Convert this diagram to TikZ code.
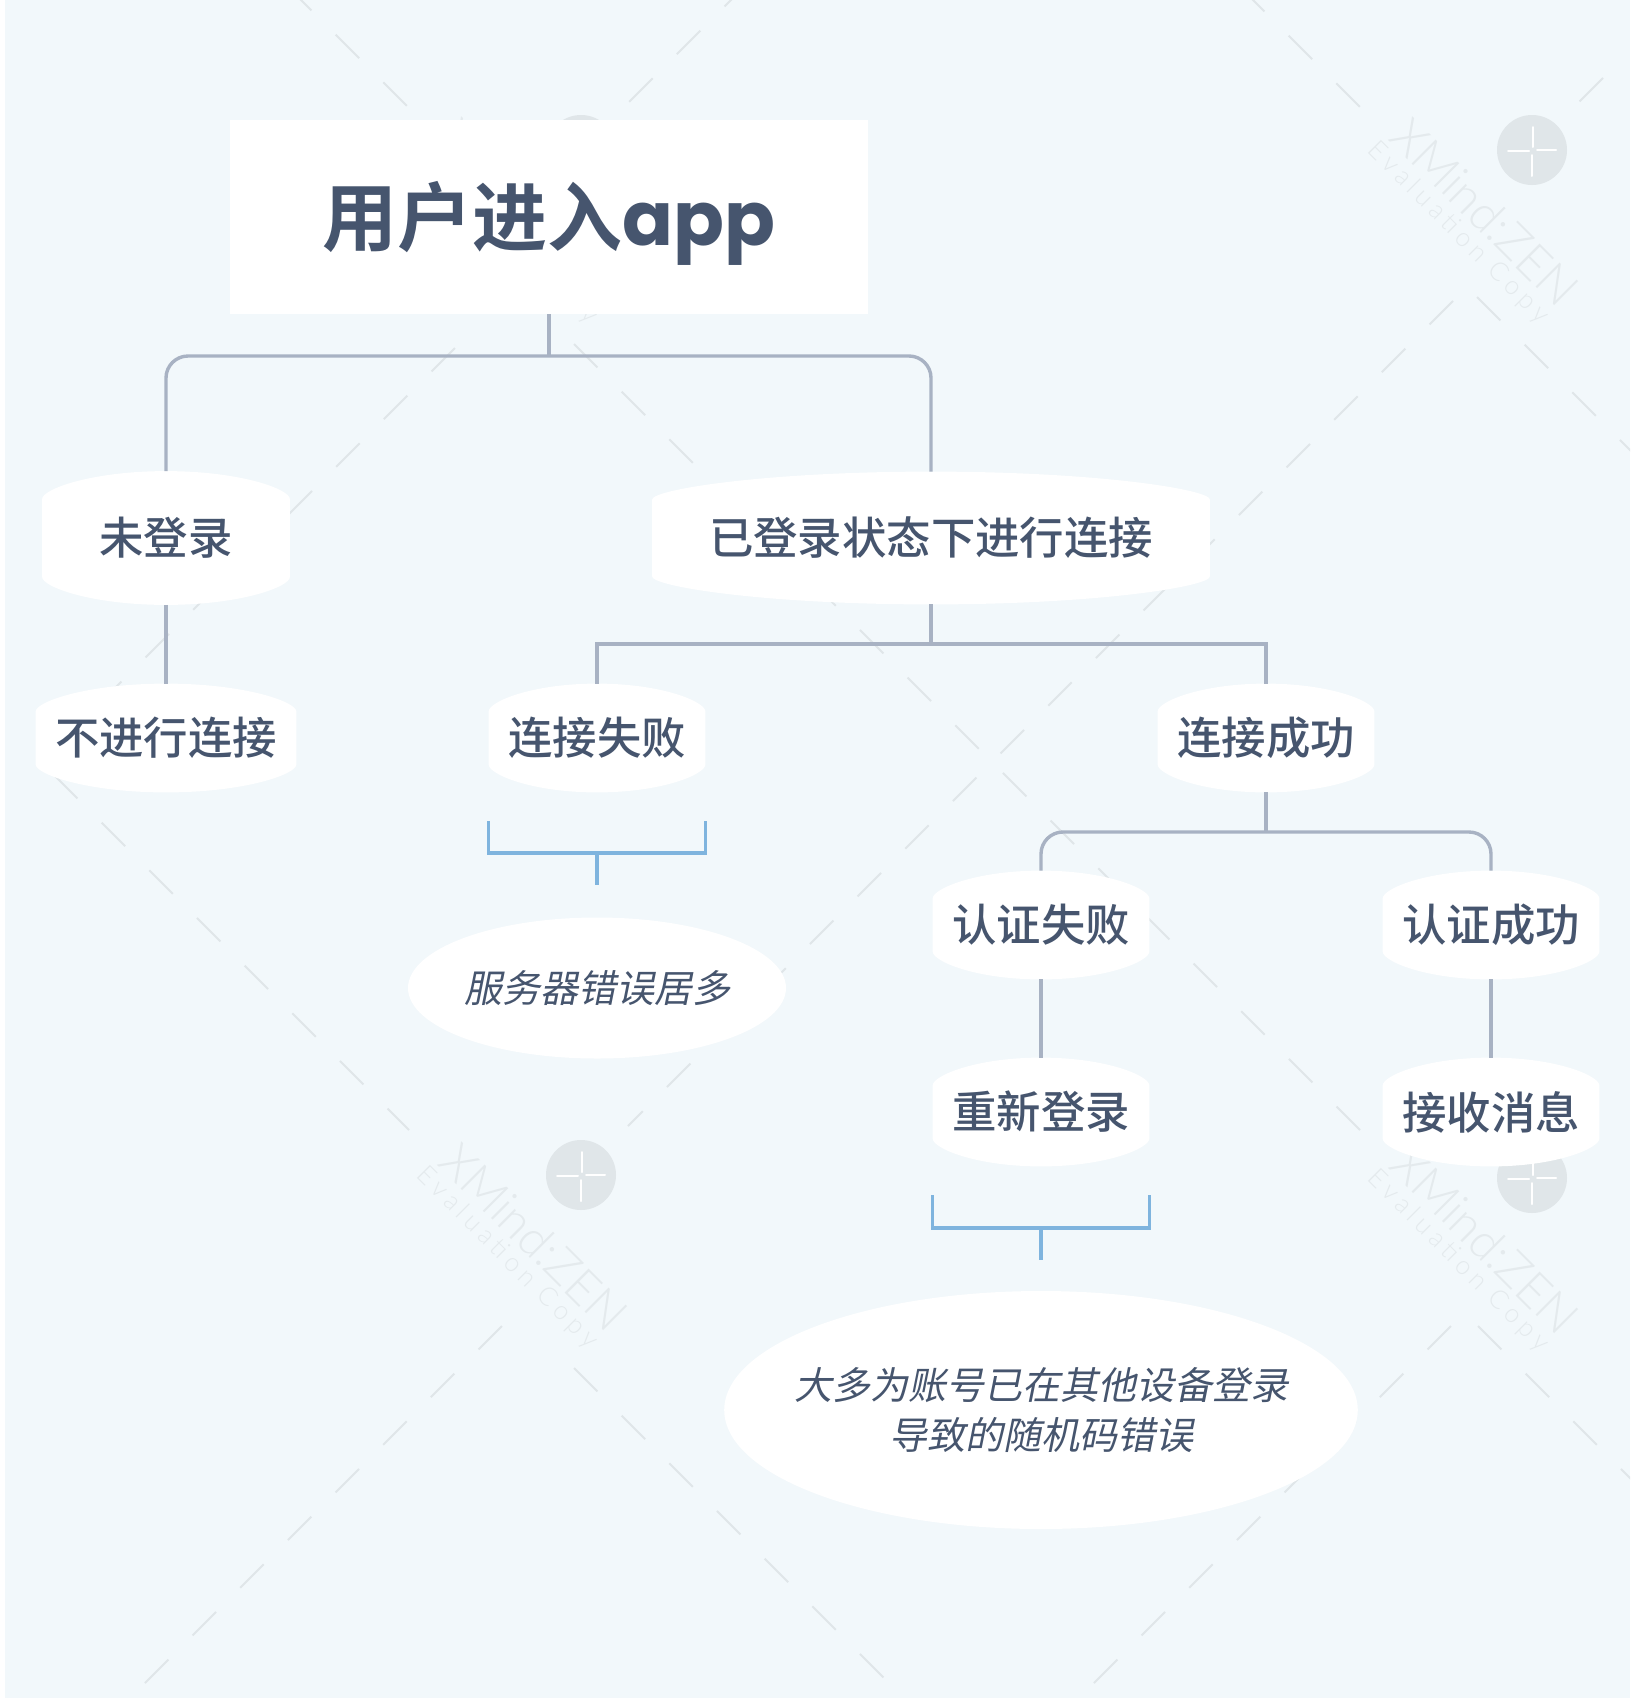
\documentclass[tikz,border=0pt]{standalone}
\usepackage{fontspec}
\usepackage{xcolor}
\usetikzlibrary{positioning,calc,shapes.geometric,backgrounds}
\newfontfamily\cjkmid{Noto Sans CJK SC Medium}
\newfontfamily\cjkbold{Noto Sans CJK SC Bold}
\newfontfamily\cjkslant[FakeSlant=0.2]{Noto Sans CJK SC}
\newfontfamily\appfont{Poppins}
\newfontfamily\wmfont{Lato Light}
\newfontfamily\wmspaced[LetterSpace=20]{Lato Light}
\definecolor{pagebg}{HTML}{F2F8FB}
\definecolor{ink}{HTML}{46556E}
\definecolor{branch}{HTML}{A8B2C3}
\definecolor{notebar}{HTML}{7FB4DE}
\definecolor{wmark}{HTML}{E0E6E9}
\tikzset{
  rootbox/.style={fill=white, inner sep=0pt, minimum width=319pt, minimum height=97pt, text height=32pt, text depth=3.4pt, text=ink, font=\cjkbold\fontsize{37.5}{44}\selectfont},
  topic/.style={inner sep=0pt, minimum width=108pt, minimum height=54pt, text=ink, font=\cjkmid\fontsize{22.2}{26}\selectfont},
  note/.style={ellipse, fill=white, inner sep=0pt, text=ink, align=center, font=\cjkslant\fontsize{19}{25}\selectfont},
  branchln/.style={draw=branch, line width=1.7pt},
  barln/.style={draw=notebar, line width=1.7pt},
  wmdash/.style={draw=wmark, line width=1pt, dash pattern=on 16.6pt off 17.1pt},
}
% white topic shape: bulged top and bottom, sides straight
\newcommand{\blobfill}[1]{%
  \fill[white] let \p1=(#1.north west), \p2=(#1.south east), \n1={0.2*(\x2-\x1)}, \n2={0.5*(\x1+\x2)} in
    (\x1,\y1-14pt) .. controls (\x1,\y1-9pt) and (\x1+\n1,\y1) .. (\n2,\y1)
    .. controls (\x2-\n1,\y1) and (\x2,\y1-9pt) .. (\x2,\y1-14pt)
    -- (\x2,\y2+14pt) .. controls (\x2,\y2+9pt) and (\x2-\n1,\y2) .. (\n2,\y2)
    .. controls (\x1+\n1,\y2) and (\x1,\y2+9pt) .. (\x1,\y2+14pt) -- cycle;
}
\begin{document}
\begin{tikzpicture}[x=0.5pt,y=-0.5pt]
  \useasboundingbox (0,0) rectangle (1634,1698);

  \node[rootbox] (root) at (549,217) {用户进入{\appfont\bfseries app}};

  \node[topic,minimum width=123.5pt,minimum height=66.5pt] (nologin) at (166,538) {未登录};
  \node[topic,minimum width=278.5pt,minimum height=66pt]   (login)   at (931,538) {已登录状态下进行连接};
  \node[topic,minimum width=130pt]  (noconn)   at (166,738)  {不进行连接};
  \node[topic] (connfail) at (597,738)  {连接失败};
  \node[topic] (connok)   at (1266,738) {连接成功};
  \node[topic] (authfail) at (1041,925) {认证失败};
  \node[topic] (authok)   at (1491,925) {认证成功};
  \node[topic] (relogin)  at (1041,1112) {重新登录};
  \node[topic] (recvmsg)  at (1491,1112) {接收消息};

  \node[note,minimum width=189pt,minimum height=70.5pt] (note1) at (597,988) {服务器错误居多};
  \node[note,inner xsep=-11.5pt,minimum height=119pt]  (note2) at (1041,1410) {大多为账号已在其他设备登录\\导致的随机码错误};

  \begin{scope}[on background layer]
    \fill[white] (0,0) rectangle (1634,1698);
    \fill[pagebg] (5,0) rectangle (1630,1698);
    % watermark
    \begin{scope}
      \clip (5,0) rectangle (1630,1698);
      \foreach \ax/\ay/\bx/\by in {288/-13/409/108, 574/344/1360/1130, 1241/-12/1360/107, 1477/297/1640/460,
          54/775/409/1130, 574/1368/910/1704, 1478/1326/1650/1498,
          1603/78/1579/102, 1453/301/628/1126, 748/-17/628/103, 455/348/36/767,
          502/1326/120/1708, 1451/1326/1070/1707}
        \draw[wmdash] (\ax,\ay) -- (\bx,\by);
      \foreach \lx/\ly [count=\i] in {581/150, 1532/150, 581/1175, 1532/1178} {
        \fill[wmark] (\lx,\ly) circle (17.5pt);
        \draw[white,line width=1pt,line cap=round] (\lx+1,\ly-23) -- (\lx+1,\ly-3) (\lx+5,\ly) -- (\lx+24,\ly)
          (\lx-24,\ly+1) -- (\lx-3,\ly+1) (\lx,\ly+5) -- (\lx,\ly+26);
        \node[text=wmark!80!pagebg,rotate=-45,font=\wmfont\fontsize{24}{28}\selectfont] (wmname\i) at (\lx-47,\ly+62) {XMind:ZEN};
        \node[text=wmark!80!pagebg,rotate=-45,font=\wmspaced\fontsize{13}{15}\selectfont] (wmcopy\i) at (\lx-74,\ly+83) {Evaluation Copy};
      }
    \end{scope}
    \foreach \tp in {nologin,login,noconn,connfail,connok,authfail,authok,relogin,recvmsg}
      \blobfill{\tp};
  \end{scope}

  % branches
  \coordinate (rootj) at (549,356);
  \coordinate (loginj) at (931,644);
  \coordinate (okj) at (1266,832);
  \draw[branchln] (root.south) -- (rootj);
  \draw[branchln,rounded corners=11pt] (nologin.north) -- (nologin.north |- rootj) -- (login.north |- rootj) -- (login.north);
  \draw[branchln] (nologin.south) -- (noconn.north);
  \draw[branchln] (login.south) -- (loginj);
  \draw[branchln] (connfail.north) -- (connfail.north |- loginj) -- (connok.north |- loginj) -- (connok.north);
  \draw[branchln] (connok.south) -- (okj);
  \draw[branchln,rounded corners=11pt] (authfail.north) -- (authfail.north |- okj) -- (authok.north |- okj) -- (authok.north);
  \draw[branchln] (authfail.south) -- (relogin.north);
  \draw[branchln] (authok.south) -- (recvmsg.north);

  % note brackets
  \coordinate (failj) at (597,853);
  \coordinate (reloginj) at (1041,1228);
  \draw[barln] ([yshift=-14.5pt]connfail.south west) -- (connfail.south west |- failj) -- (connfail.south east |- failj) -- ([yshift=-14.5pt]connfail.south east);
  \draw[barln] (failj) -- ([yshift=16pt]note1.north);
  \draw[barln] ([yshift=-14.5pt]relogin.south west) -- (relogin.south west |- reloginj) -- (relogin.south east |- reloginj) -- ([yshift=-14.5pt]relogin.south east);
  \draw[barln] (reloginj) -- ([yshift=15.5pt]note2.north);
\end{tikzpicture}
\end{document}
